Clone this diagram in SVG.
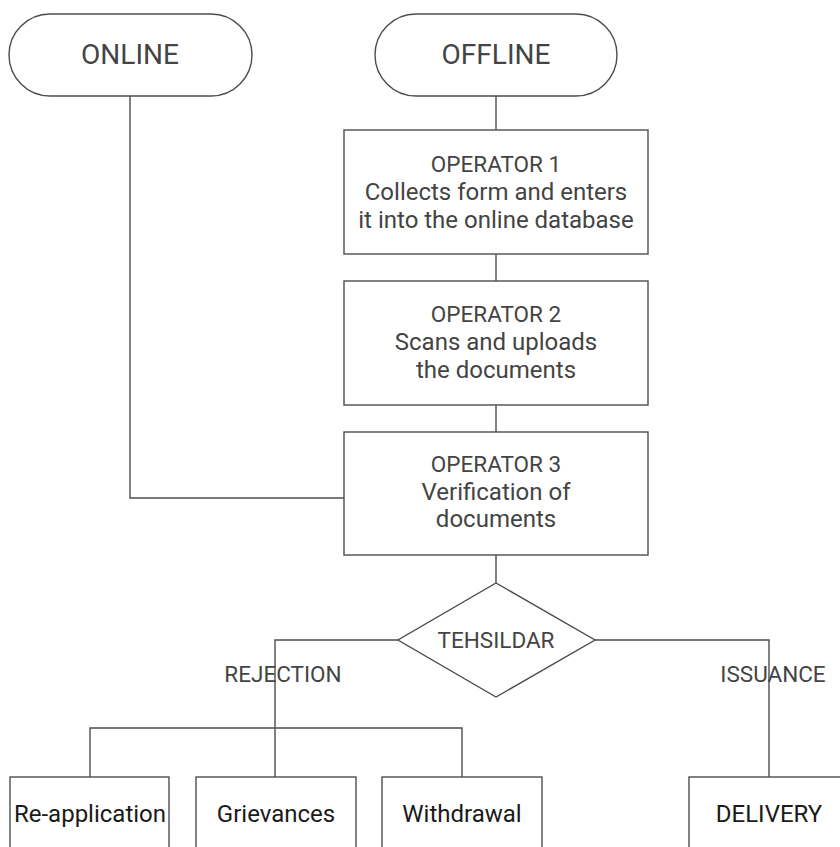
<svg xmlns="http://www.w3.org/2000/svg" width="840" height="847" viewBox="0 0 840 847">
<style>
.shape{fill:#fff;stroke:#4d4d4d;stroke-width:1.4}
.conn{fill:none;stroke:#4d4d4d;stroke-width:1.4}
.t{font-family:Roboto,"Liberation Sans",sans-serif;fill:#444;text-anchor:middle}
.big{font-size:28px}
.mid{font-size:22.5px}
.desc{font-size:24px}
.low{font-size:24px;fill:#1a1a1a}
</style>
<rect width="840" height="847" fill="#fff"/>
<g id="connectors">
<path class="conn" d="M130 96 V498 H345"/>
<path class="conn" d="M496 96 V130"/>
<path class="conn" d="M496 254 V281"/>
<path class="conn" d="M496 405 V432"/>
<path class="conn" d="M496 555 V583"/>
<path class="conn" d="M398 640 H275 V777"/>
<path class="conn" d="M90 777 V728 H462 V777"/>
<path class="conn" d="M595 640 H769 V777"/>
</g>
<g id="online">
<rect class="shape" x="9" y="14" width="243" height="82" rx="41"/>
<text class="t big" x="130" y="64">ONLINE</text>
</g>
<g id="offline">
<rect class="shape" x="375" y="14" width="242" height="82" rx="41"/>
<text class="t big" x="496" y="64">OFFLINE</text>
</g>
<g id="operator1">
<rect class="shape" x="344" y="130" width="304" height="124"/>
<text class="t mid" x="496" y="172">OPERATOR 1</text>
<text class="t desc" x="496" y="200">Collects form and enters</text>
<text class="t desc" x="496" y="228">it into the online database</text>
</g>
<g id="operator2">
<rect class="shape" x="344" y="281" width="304" height="124"/>
<text class="t mid" x="496" y="322">OPERATOR 2</text>
<text class="t desc" x="496" y="350">Scans and uploads</text>
<text class="t desc" x="496" y="378">the documents</text>
</g>
<g id="operator3">
<rect class="shape" x="344" y="432" width="304" height="123"/>
<text class="t mid" x="496" y="472">OPERATOR 3</text>
<text class="t desc" x="496" y="500">Verification of</text>
<text class="t desc" x="496" y="527">documents</text>
</g>
<g id="tehsildar">
<polygon class="shape" points="496,583 595,640 496,697 398,640"/>
<text class="t mid" x="496" y="648">TEHSILDAR</text>
</g>
<g id="rejection-label">
<text class="t mid" x="283" y="682">REJECTION</text>
</g>
<g id="issuance-label">
<text class="t mid" x="773" y="682">ISSUANCE</text>
</g>
<g id="reapplication">
<rect class="shape" x="10" y="777" width="159" height="90"/>
<text class="t low" x="90" y="822">Re-application</text>
</g>
<g id="grievances">
<rect class="shape" x="196" y="777" width="160" height="90"/>
<text class="t low" x="276" y="822">Grievances</text>
</g>
<g id="withdrawal">
<rect class="shape" x="382" y="777" width="160" height="90"/>
<text class="t low" x="462" y="822">Withdrawal</text>
</g>
<g id="delivery">
<rect class="shape" x="689" y="777" width="160" height="90"/>
<text class="t low" x="769" y="822">DELIVERY</text>
</g>
</svg>
